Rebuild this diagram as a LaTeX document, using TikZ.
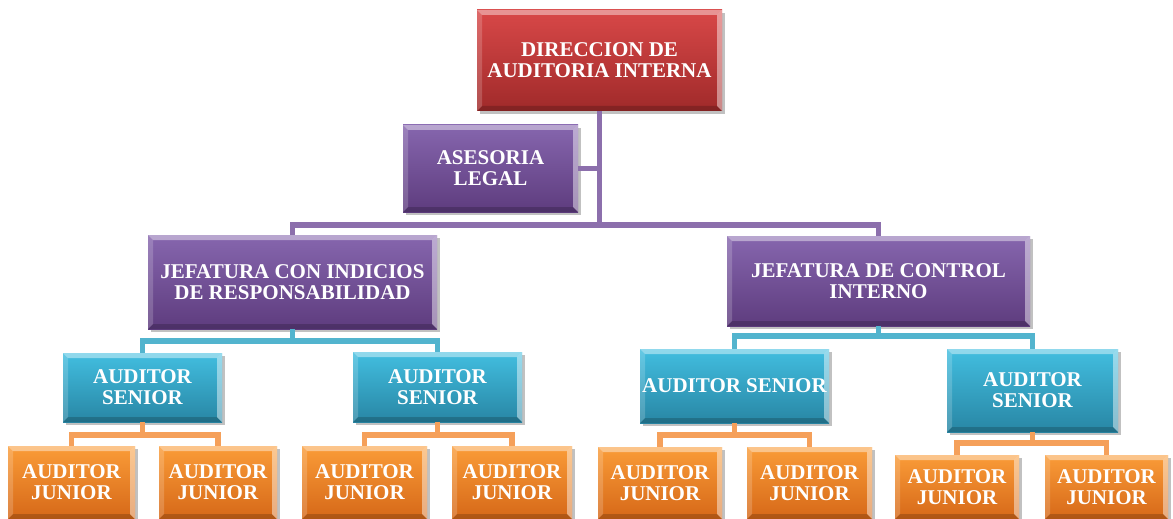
\documentclass[tikz,border=0pt]{standalone}
\usepackage{fontspec}
\setmainfont{Liberation Serif}
\usetikzlibrary{shadows,calc}
\definecolor{redT}{HTML}{D84848}
\definecolor{redB}{HTML}{A02A2A}
\definecolor{purT}{HTML}{8666AE}
\definecolor{purB}{HTML}{5E3C7E}
\definecolor{cyaT}{HTML}{42BEE0}
\definecolor{cyaB}{HTML}{2886A4}
\definecolor{oraT}{HTML}{FA9C38}
\definecolor{oraB}{HTML}{D66818}
\definecolor{pline}{HTML}{8C6FAC}
\definecolor{cline}{HTML}{52B4CE}
\definecolor{oline}{HTML}{F5A05A}
\tikzset{
  box/.style={rectangle, inner sep=0pt, align=center, text=white,
    font=\bfseries\fontsize{10.5}{10.5}\selectfont,
    drop shadow={shadow xshift=1.3pt, shadow yshift=-1.3pt, opacity=0.35, fill=black!70},
    path picture={
      \fill[white,opacity=.42] (path picture bounding box.north west) -- (path picture bounding box.north east)
        -- ([xshift=-2.5pt,yshift=-2.5pt]path picture bounding box.north east)
        -- ([xshift=2.5pt,yshift=-2.5pt]path picture bounding box.north west) -- cycle;
      \fill[white,opacity=.18] (path picture bounding box.north west) -- (path picture bounding box.south west)
        -- ([xshift=2.5pt,yshift=2.5pt]path picture bounding box.south west)
        -- ([xshift=2.5pt,yshift=-2.5pt]path picture bounding box.north west) -- cycle;
      \fill[black,opacity=.18] (path picture bounding box.south west) -- (path picture bounding box.south east)
        -- ([xshift=-2.5pt,yshift=2.5pt]path picture bounding box.south east)
        -- ([xshift=2.5pt,yshift=2.5pt]path picture bounding box.south west) -- cycle;
      \fill[white,opacity=.45] (path picture bounding box.north east) -- (path picture bounding box.south east)
        -- ([xshift=-2.5pt,yshift=2.5pt]path picture bounding box.south east)
        -- ([xshift=-2.5pt,yshift=-2.5pt]path picture bounding box.north east) -- cycle;
    }},
  redbox/.style={box, top color=redT, bottom color=redB},
  purbox/.style={box, top color=purT, bottom color=purB},
  cyabox/.style={box, top color=cyaT, bottom color=cyaB},
  orabox/.style={box, top color=oraT, bottom color=oraB},
  pconn/.style={draw=pline, line width=2.8pt},
  cconn/.style={draw=cline, line width=2.7pt},
  oconn/.style={draw=oline, line width=2.7pt},
}
\begin{document}
\begin{tikzpicture}[x=0.5pt,y=-0.5pt]
\useasboundingbox (0,0) rectangle (1173,519);
% top levels
\node[redbox, minimum width=122.5pt, minimum height=50.5pt] (dir) at (599.5,60.5) {DIRECCION DE\\AUDITORIA INTERNA};
\node[purbox, minimum width=87.5pt, minimum height=43.5pt] (ase) at (490.5,168.5) {ASESORIA\\LEGAL};
\node[purbox, minimum width=144.5pt, minimum height=47pt] (jefL) at (292.5,282) {JEFATURA CON INDICIOS\\DE RESPONSABILIDAD};
\node[purbox, minimum width=151.5pt, minimum height=45pt] (jefR) at (878.5,281) {JEFATURA DE CONTROL\\INTERNO};
% seniors
\node[cyabox, minimum width=79.5pt, minimum height=34.5pt] (s1) at (142.5,387.5) {AUDITOR\\SENIOR};
\node[cyabox, minimum width=84.5pt, minimum height=35pt] (s2) at (437.5,387) {AUDITOR\\SENIOR};
\node[cyabox, minimum width=94.5pt, minimum height=37pt] (s3) at (734.5,386) {AUDITOR SENIOR};
\node[cyabox, minimum width=85.5pt, minimum height=41.5pt] (s4) at (1032.5,390.5) {AUDITOR\\SENIOR};
% juniors
\node[orabox, minimum width=63.5pt, minimum height=36.5pt] (j1a) at (71.5,482.5) {AUDITOR\\JUNIOR};
\node[orabox, minimum width=59pt, minimum height=36.5pt] (j1b) at (218,482.5) {AUDITOR\\JUNIOR};
\node[orabox, minimum width=62.5pt, minimum height=36.5pt] (j2a) at (364.5,482.5) {AUDITOR\\JUNIOR};
\node[orabox, minimum width=60pt, minimum height=36.5pt] (j2b) at (512,482.5) {AUDITOR\\JUNIOR};
\node[orabox, minimum width=62pt, minimum height=36pt] (j3a) at (660,483) {AUDITOR\\JUNIOR};
\node[orabox, minimum width=62.5pt, minimum height=36pt] (j3b) at (809.5,483) {AUDITOR\\JUNIOR};
\node[orabox, minimum width=62pt, minimum height=32pt] (j4a) at (957,487) {AUDITOR\\JUNIOR};
\node[orabox, minimum width=61.5pt, minimum height=32pt] (j4b) at (1106.5,487) {AUDITOR\\JUNIOR};
% bus points
\coordinate (bTop) at (599.5,225);
\coordinate (bL) at (292.5,341);
\coordinate (bR) at (878.5,336);
\coordinate (b1) at (142.5,435);
\coordinate (b2) at (437.5,435);
\coordinate (b3) at (734.5,435);
\coordinate (b4) at (1032.5,443);
% connectors
\draw[pconn] (dir.south) -- (bTop);
\draw[pconn] (jefL.north) |- (bTop) -| (jefR.north);
\draw[pconn] (ase.east) -- (ase.east -| dir.south);
\draw[cconn] (jefL.south) -- (bL);
\draw[cconn] (s1.north) |- (bL) -| (s2.north);
\draw[cconn] (jefR.south) -- (bR);
\draw[cconn] (s3.north) |- (bR) -| (s4.north);
\draw[oconn] (s1.south) -- (b1);
\draw[oconn] (j1a.north) |- (b1) -| (j1b.north);
\draw[oconn] (s2.south) -- (b2);
\draw[oconn] (j2a.north) |- (b2) -| (j2b.north);
\draw[oconn] (s3.south) -- (b3);
\draw[oconn] (j3a.north) |- (b3) -| (j3b.north);
\draw[oconn] (s4.south) -- (b4);
\draw[oconn] (j4a.north) |- (b4) -| (j4b.north);
\end{tikzpicture}
\end{document}
